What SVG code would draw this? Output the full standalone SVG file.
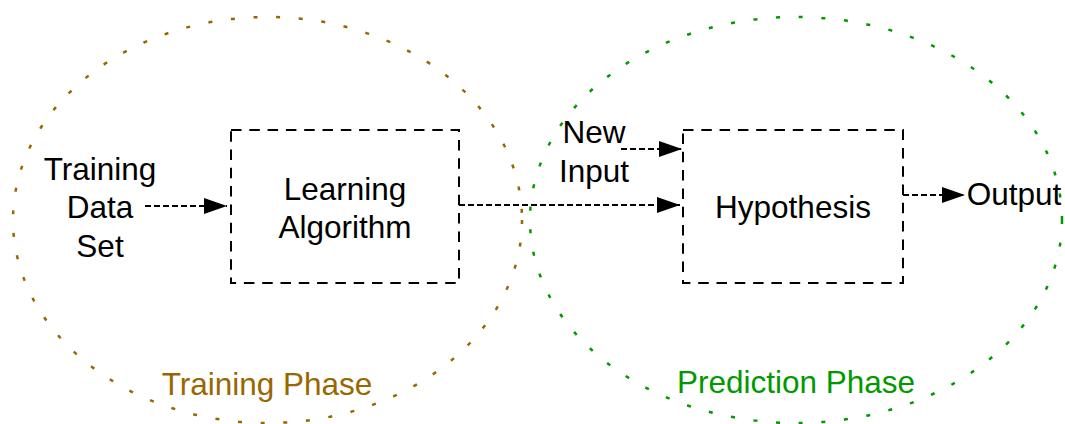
<svg xmlns="http://www.w3.org/2000/svg" width="1065" height="424" viewBox="0 0 1065 424">
<style>
.phase{fill:none;stroke-width:2.5;stroke-dasharray:4 18.7;stroke-linecap:butt}
.box{fill:none;stroke:#000;stroke-width:2;stroke-dasharray:10.5 7.8}
.edge{fill:none;stroke:#000;stroke-width:2;stroke-dasharray:6 3}
text{font-family:"Liberation Sans",Arial,Helvetica,sans-serif;font-size:31.5px;fill:#000;text-anchor:middle}
</style>
<defs>
<marker id="arr" markerUnits="userSpaceOnUse" markerWidth="26" markerHeight="18" refX="23" refY="8" orient="auto">
<path d="M0,0 L23,8 L0,16 Z" fill="#000"/>
</marker>
</defs>
<g id="training-phase">
<ellipse class="phase" cx="267.5" cy="220" rx="254.5" ry="203" stroke="#996600"/>
<text x="267" y="395" style="fill:#996600">Training Phase</text>
</g>
<g id="prediction-phase">
<ellipse class="phase" cx="796" cy="220" rx="266" ry="203" stroke="#009900"/>
<text x="796" y="393" style="fill:#009900">Prediction Phase</text>
</g>
<g id="training-data">
<text x="100" y="180">Training</text>
<text x="100" y="218">Data</text>
<text x="100" y="257">Set</text>
</g>
<g id="learning-algorithm">
<rect class="box" x="231" y="130" width="228" height="153"/>
<text x="345" y="200">Learning</text>
<text x="345" y="238">Algorithm</text>
</g>
<g id="new-input">
<text x="594" y="143">New</text>
<text x="594" y="182">Input</text>
</g>
<g id="hypothesis">
<rect class="box" x="683" y="130" width="220" height="153"/>
<text x="793" y="218">Hypothesis</text>
</g>
<g id="output">
<text x="1014" y="205">Output</text>
</g>
<g id="connectors">
<line class="edge" x1="145" y1="206" x2="227" y2="206" marker-end="url(#arr)"/>
<line class="edge" x1="459" y1="205" x2="680" y2="205" marker-end="url(#arr)"/>
<line class="edge" x1="621" y1="149" x2="682" y2="149" marker-end="url(#arr)"/>
<line class="edge" x1="903" y1="195" x2="965" y2="195" marker-end="url(#arr)"/>
</g>
</svg>
